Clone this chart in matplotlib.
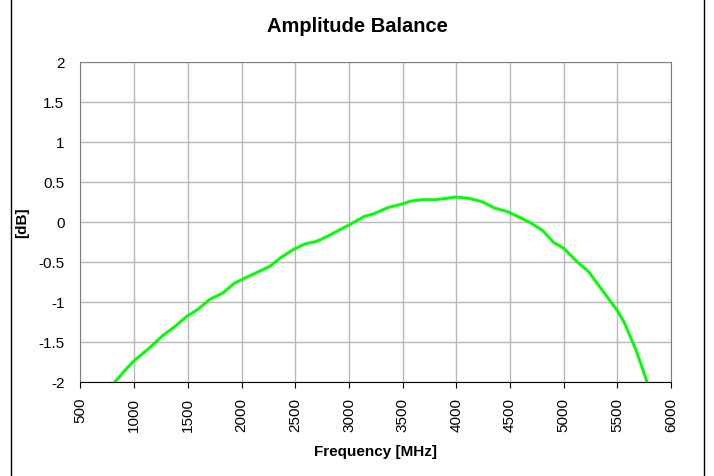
import matplotlib.pyplot as plt
from matplotlib.ticker import FuncFormatter, MultipleLocator
from matplotlib.lines import Line2D

plt.rcParams['font.family'] = ['Liberation Sans', 'DejaVu Sans']
plt.rcParams['axes.unicode_minus'] = False

# Values
freq_mhz = [823, 932, 1000, 1149, 1258, 1382, 1490, 1590, 1700, 1825, 1932, 2000,
            2145, 2265, 2360, 2490, 2590, 2700, 2800, 2910, 3000, 3140, 3234, 3360,
            3485, 3578, 3686, 3805, 3913, 4000, 4115, 4240, 4355, 4475, 4585, 4695,
            4805, 4905, 5000, 5124, 5232, 5373, 5500, 5566, 5675, 5775]
balance_db = [-2.0, -1.833, -1.737, -1.571, -1.433, -1.308, -1.183, -1.1, -0.975, -0.892,
              -0.771, -0.725, -0.633, -0.558, -0.454, -0.342, -0.279, -0.246, -0.183,
              -0.104, -0.042, 0.063, 0.1, 0.175, 0.217, 0.258, 0.275, 0.275, 0.292,
              0.308, 0.292, 0.25, 0.171, 0.125, 0.058, -0.017, -0.113, -0.258, -0.333,
              -0.5, -0.625, -0.883, -1.113, -1.267, -1.613, -2.0]

fig = plt.figure(figsize=(7.14, 4.77), dpi=100)
ax = fig.add_axes([0.1127, 0.1977, 0.8273, 0.6709])

ax.plot(freq_mhz, balance_db, color="#00ff00", linewidth=2.1)

ax.set_xlim(500, 6000)
ax.set_ylim(-2, 2)
ax.xaxis.set_major_locator(MultipleLocator(500))
ax.yaxis.set_major_locator(MultipleLocator(0.5))
ax.yaxis.set_major_formatter(FuncFormatter(lambda v, p: f"{v:g}"))
ax.xaxis.set_major_formatter(FuncFormatter(lambda v, p: f"{v:g}"))
ax.grid(True, color="#b8b8b8", linewidth=1.0)
ax.set_axisbelow(True)

for s in ["top", "right", "left"]:
    ax.spines[s].set_color("#808080")
ax.spines["bottom"].set_color("black")
ax.tick_params(axis="x", direction="out", length=4, labelsize=11, rotation=90, pad=7)
ax.tick_params(axis="y", length=0, labelsize=11, pad=11.5)

fig.text(0.5, 1 - 27 / 477, "Amplitude Balance", fontsize=14.5, fontweight="bold",
         ha="center", va="center")
ax.set_xlabel("Frequency [MHz]", fontsize=11, fontweight="bold", va="center")
ax.xaxis.set_label_coords(0.5, -0.2166)
ax.set_ylabel("[dB]", fontsize=11, fontweight="bold", va="center")
ax.yaxis.set_label_coords(-0.099, 0.5)

# outer frame lines of the chart area
fig.add_artist(Line2D([11 / 714, 11 / 714], [0, 1], color="black", linewidth=1))
fig.add_artist(Line2D([704 / 714, 704 / 714], [0, 1], color="black", linewidth=1))

fig.savefig("out.png", dpi=100)
